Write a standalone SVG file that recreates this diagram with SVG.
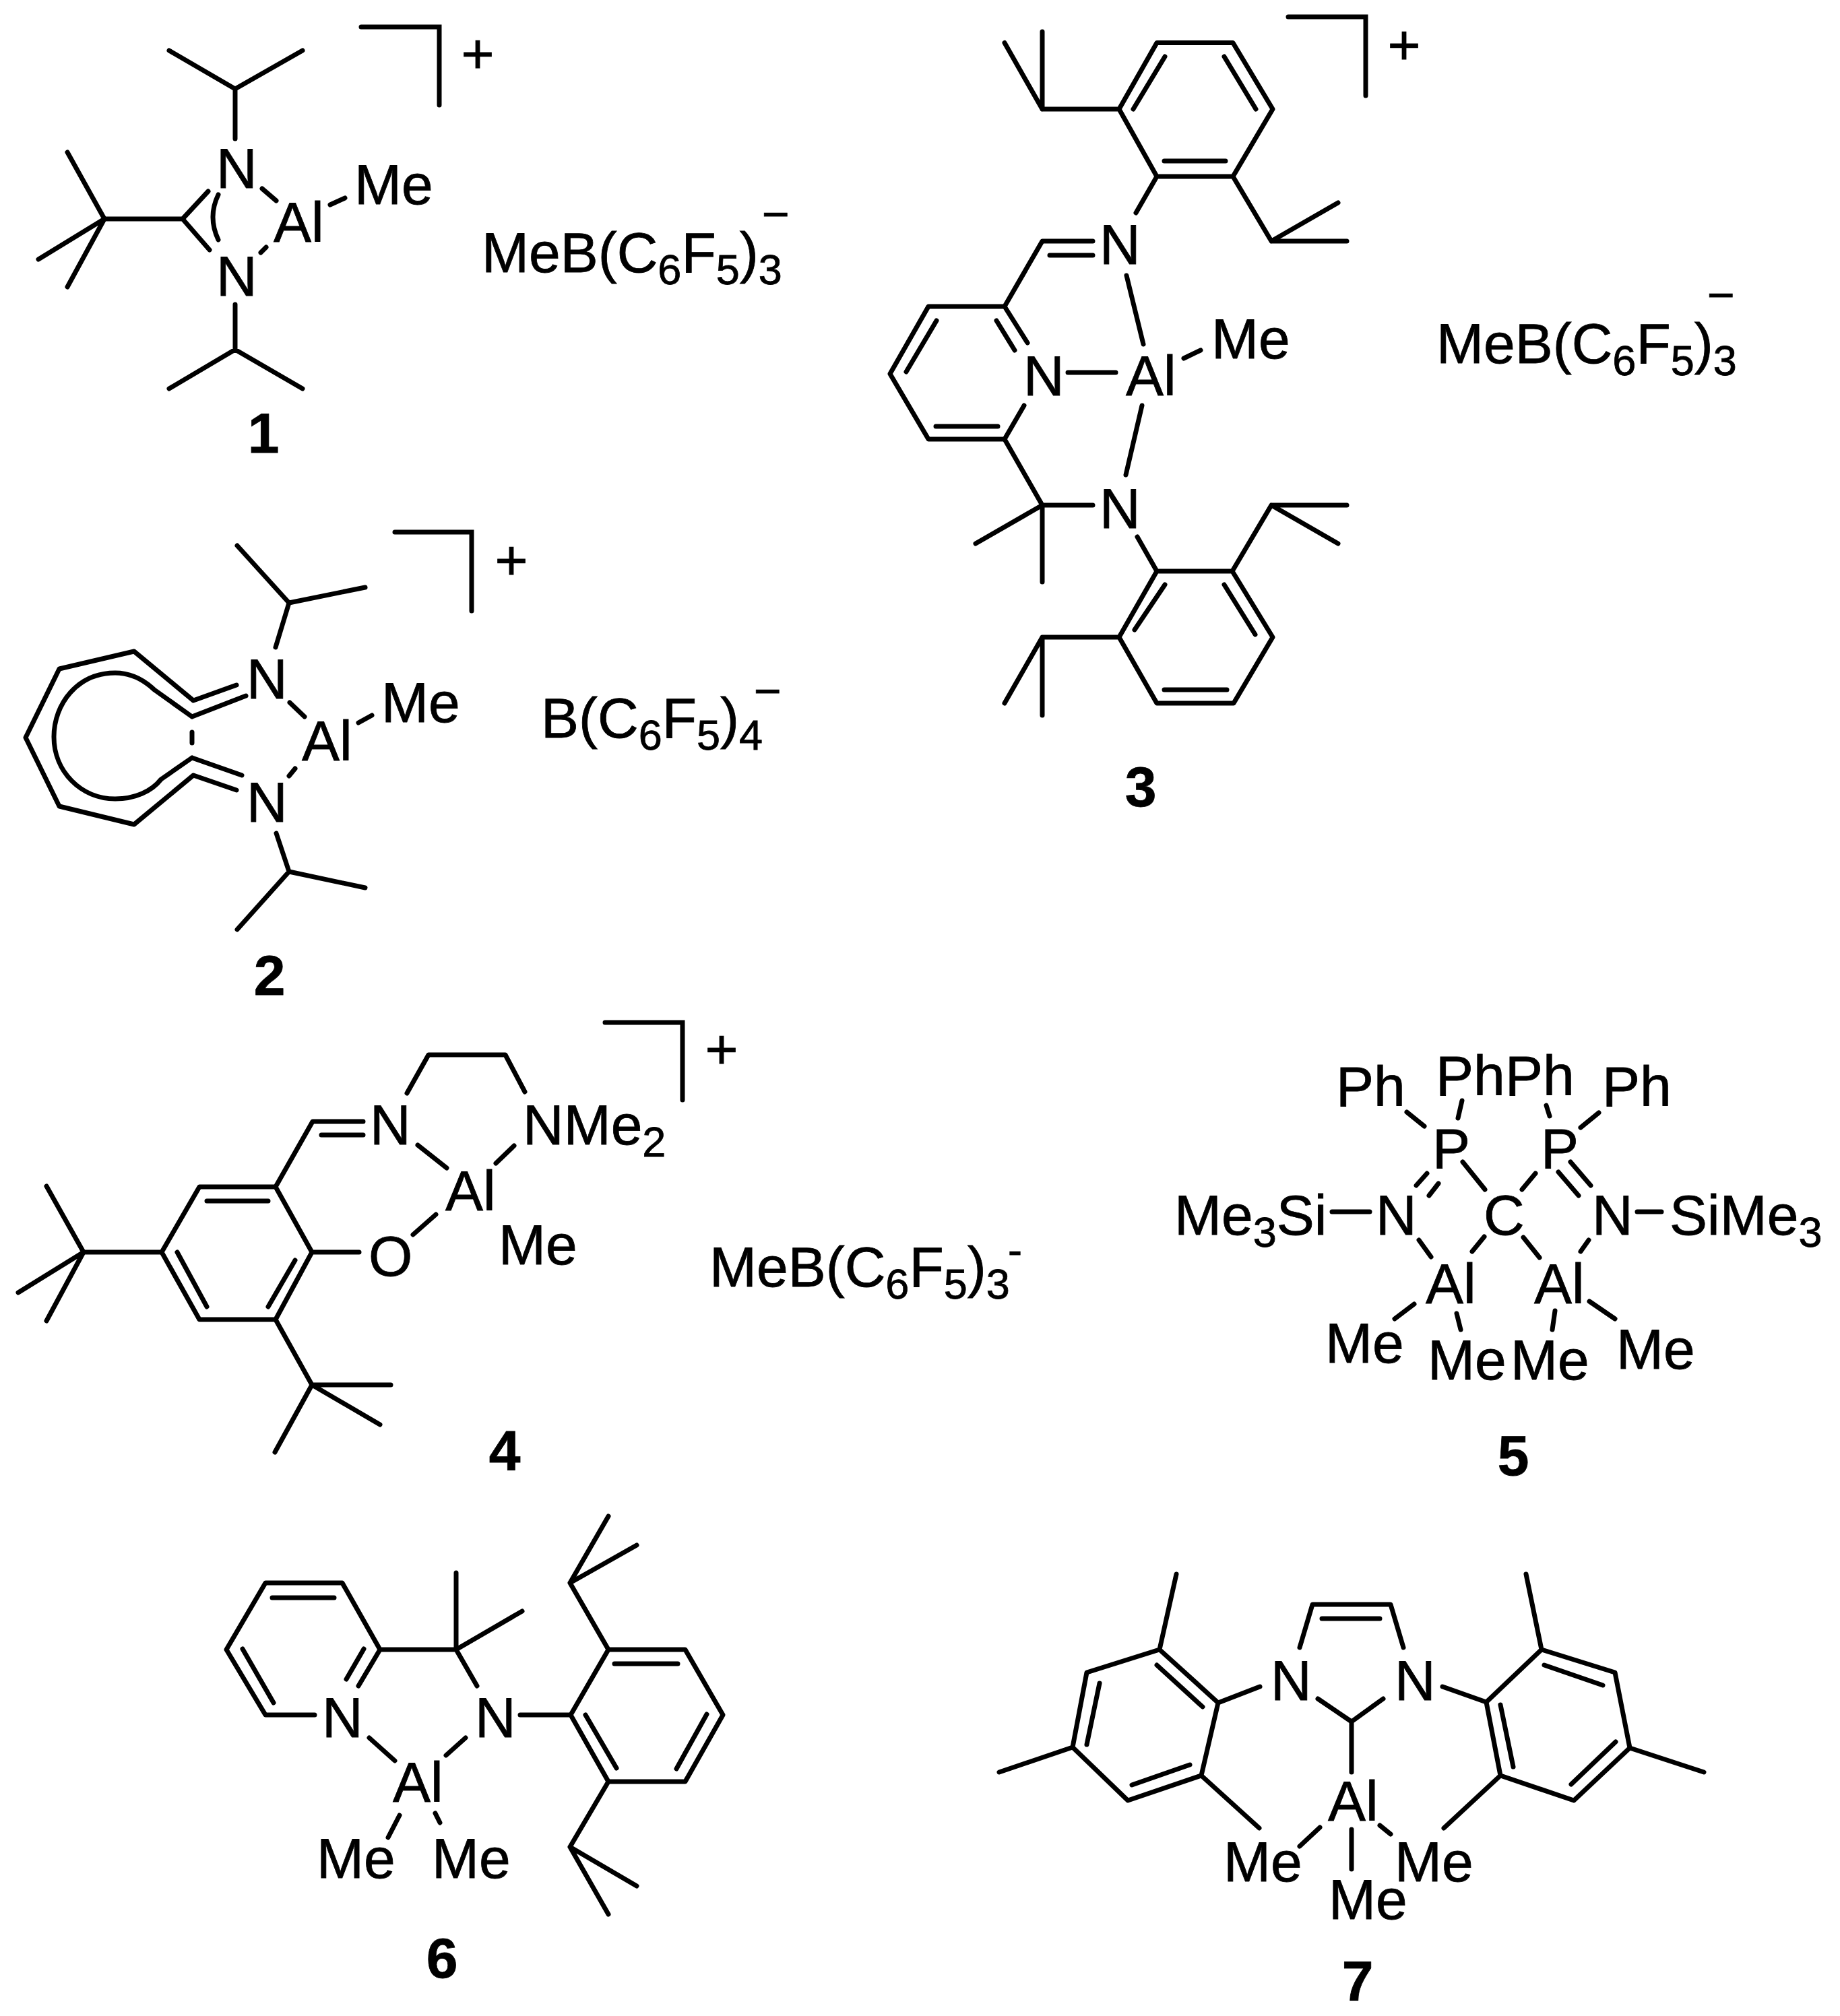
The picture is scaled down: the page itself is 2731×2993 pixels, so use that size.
<svg xmlns="http://www.w3.org/2000/svg" width="2731" height="2993" viewBox="0 0 2731 2993">
<style>
text{font-family:"Liberation Sans",Arial,sans-serif;font-size:84px;fill:#000;stroke:#000;stroke-width:.8}
.s{font-size:63px}
.n{font-weight:bold;text-anchor:middle}
.c{text-anchor:middle}
.m{font-size:70px}
#connectors path{fill:none;stroke:#000;stroke-width:7;stroke-linecap:round;stroke-linejoin:round}
.br{fill:none;stroke:#000;stroke-width:7;stroke-linecap:round;stroke-linejoin:miter}
</style>
<rect width="2731" height="2993" fill="#fff"/>
<g id="connectors">
<path id="bonds-1" d="M251,75L349,132L449,75M349,132V206M100,226L155,325L57,385M155,325L100,426M155,325H271L309,284M271,325L311,371M324,289Q308,322 324,356M389,280L410,298M395,367L387,375M490,304L512,294M349,452V519M251,577L349,519L449,577"/>
<path id="bonds-2" d="M352,810L429,895L542,872M429,895L409,961M351,1017L287,1040L199,967L88,993L38,1095L88,1197L199,1224L287,1151L351,1173M285,1064L365,1033M285,1125L359,1151M285,1064L229,1024C210,1006 190,999 171,999C115,999 80,1045 80,1094C80,1145 120,1186 171,1186C200,1186 225,1175 239,1157L285,1125M285,1087V1103M430,1043L452,1064M438,1141L429,1152M532,1073L552,1062M410,1237L429,1294L542,1318M429,1294L352,1380"/>
<path id="bonds-3" d="M1717,63.500H1830L1889,162L1830,262H1717L1661,162ZM1682,162L1729,84M1817,84L1864,162M1728,239H1819M1661,162H1547V47M1547,162L1491,63.500M1830,262L1887,358H1999M1887,358L1986,301M1717,262L1686,316M1622,358H1547L1491,455L1378,455L1321,555L1378,652H1491L1520,602M1558,379H1622M1491,455L1525,509M1479,476L1506,520M1390,476L1345,552M1389,633H1481M1585,553H1656M1672,409L1697,511M1695,602L1671,705M1757,532L1782,520M1491,652L1547,750H1622M1547,750L1448,807M1547,750V864M1688,797L1717,848M1717,848H1829L1889,946L1831,1044H1717L1661,946ZM1729,868L1684,935M1817,868L1863,942M1728,1024H1821M1829,848L1887,750H1999M1887,750L1986,807M1661,946H1547L1491,1044M1547,946V1062"/>
<path id="bonds-4" d="M296,1762H409L463,1859L409,1959H296L240,1859ZM307,1783H398M438,1871L398,1940M263,1859L307,1940M409,1762L464,1665H539M477,1685H539M604,1623L636,1566H750L779,1621M620,1700L663,1734M763,1701L736,1727M647,1803L613,1833M463,1859H533M240,1859H124L69,1761M124,1859L27,1919M124,1859L69,1961M409,1959L463,2056H580M463,2056L564,2115M463,2056L408,2156"/>
<path id="bonds-5" d="M2088,1651L2114,1672M2170,1634L2164,1660M2295,1641L2300,1657M2373,1652L2346,1674M2118,1742L2102,1760M2135,1757L2121,1775M2171,1725L2204,1766M2259,1766L2279,1742M2331,1725L2361,1760M2313,1740L2343,1775M1977,1799H2033M2430,1799H2466M2106,1841L2124,1866M2203,1836L2185,1858M2261,1837L2285,1867M2358,1841L2346,1858M2099,1936L2070,1958M2162,1950L2168,1974M2308,1946L2304,1974M2359,1932L2397,1958"/>
<path id="bonds-6" d="M467,2546H394L336,2449L394,2350H508L564,2449L532,2503M404,2372H496M360,2448L406,2528M540,2448L514,2493M564,2449H677V2335M677,2449L775,2392M677,2449L708,2503M772,2546H847M847,2546L903,2449H1017L1073,2546L1017,2645H903ZM912,2470H1006M1049,2545L1004,2626M869,2546L915,2625M903,2449L846,2350L903,2251M846,2350L945,2294M903,2645L846,2742L945,2800M846,2742L903,2842M548,2580L586,2614M691,2580L662,2606M593,2695L576,2728M646,2692L653,2706"/>
<path id="bonds-7" d="M1929,2446L1948,2382H2064L2083,2446M1962,2403H2048M1956,2522L2006,2556L2053,2522M2006,2556V2631M1808,2528L1721,2449L1613,2483L1592,2594L1674,2673L1783,2636ZM1717,2472L1785,2534M1632,2499L1613,2590M1680,2650L1766,2620M1870,2504L1808,2528M1721,2449L1746,2337M1592,2594L1483,2631M1783,2636L1869,2714M2206,2527L2288,2449L2397,2483L2419,2595L2336,2673L2227,2636ZM2292,2472L2379,2502M2227,2531L2246,2623M2398,2586L2332,2649M2141,2504L2206,2527M2288,2449L2265,2337M2419,2595L2529,2631M2227,2636L2143,2714M1959,2713L1929,2741M2048,2710L2064,2723M2006,2716V2775"/>
</g>
<g id="compound-1">
<path class="br" d="M536,40H652V156"/>
<text x="321" y="279">N</text><text x="321" y="439">N</text><text x="406" y="359">Al</text><text x="526" y="303">Me</text>
<text class="c" x="709" y="108">+</text>
<text x="715" y="404">MeB(C<tspan class="s" dy="18">6</tspan><tspan dy="-18">F</tspan><tspan class="s" dy="18">5</tspan><tspan dy="-18">)</tspan><tspan class="s" dy="18">3</tspan></text>
<text class="m" x="1131" y="342">−</text>
<text class="n" x="391" y="672">1</text>
</g>
<g id="compound-2">
<path class="br" d="M586,790H700V907"/>
<text x="366" y="1037">N</text><text x="366" y="1220">N</text><text x="448" y="1129">Al</text><text x="566" y="1072">Me</text>
<text class="c" x="759" y="860">+</text>
<text x="803" y="1095">B(C<tspan class="s" dy="18">6</tspan><tspan dy="-18">F</tspan><tspan class="s" dy="18">5</tspan><tspan dy="-18">)</tspan><tspan class="s" dy="18">4</tspan></text>
<text class="m" x="1119" y="1050">−</text>
<text class="n" x="400" y="1477">2</text>
</g>
<g id="compound-3">
<path class="br" d="M1912,25H2027V142"/>
<text x="1632" y="392">N</text><text x="1519" y="587">N</text><text x="1671" y="587">Al</text><text x="1798" y="532">Me</text><text x="1632" y="784">N</text>
<text class="c" x="2084" y="95">+</text>
<text x="2132" y="539">MeB(C<tspan class="s" dy="18">6</tspan><tspan dy="-18">F</tspan><tspan class="s" dy="18">5</tspan><tspan dy="-18">)</tspan><tspan class="s" dy="18">3</tspan></text>
<text class="m" x="2534" y="462">−</text>
<text class="n" x="1693" y="1197">3</text>
</g>
<g id="compound-4">
<path class="br" d="M898,1518H1013V1633"/>
<text x="549" y="1699">N</text><text x="776" y="1699">NMe<tspan class="s" dy="18">2</tspan></text><text x="661" y="1797">Al</text><text x="547" y="1894">O</text><text x="740" y="1877">Me</text>
<text class="c" x="1071" y="1586">+</text>
<text x="1053" y="1910">MeB(C<tspan class="s" dy="18">6</tspan><tspan dy="-18">F</tspan><tspan class="s" dy="18">5</tspan><tspan dy="-18">)</tspan><tspan class="s" dy="18">3</tspan></text>
<text x="1496" y="1877" class="s">-</text>
<text class="n" x="749" y="2183">4</text>
</g>
<g id="compound-5">
<text x="1983" y="1642">Ph</text><text x="2131" y="1626">Ph</text><text x="2234" y="1626">Ph</text><text x="2378" y="1642">Ph</text>
<text x="2126" y="1734">P</text><text x="2287" y="1734">P</text>
<text x="1743" y="1833">Me<tspan class="s" dy="18">3</tspan><tspan dy="-18">Si</tspan></text><text x="2042" y="1833">N</text><text x="2202" y="1833">C</text><text x="2363" y="1833">N</text><text x="2478" y="1833">SiMe<tspan class="s" dy="18">3</tspan></text>
<text x="2116" y="1935">Al</text><text x="2277" y="1935">Al</text>
<text x="1967" y="2023">Me</text><text x="2119" y="2048">Me</text><text x="2242" y="2048">Me</text><text x="2399" y="2032">Me</text>
<text class="n" x="2246" y="2190">5</text>
</g>
<g id="compound-6">
<text x="478" y="2579">N</text><text x="705" y="2579">N</text><text x="583" y="2675">Al</text><text x="470" y="2788">Me</text><text x="641" y="2788">Me</text>
<text class="n" x="656" y="2936">6</text>
</g>
<g id="compound-7">
<text x="1886" y="2524">N</text><text x="2070" y="2524">N</text><text x="1971" y="2703">Al</text><text x="1816" y="2793">Me</text><text x="2070" y="2793">Me</text><text x="1972" y="2849">Me</text>
<text class="n" x="2015" y="2970">7</text>
</g>
</svg>
